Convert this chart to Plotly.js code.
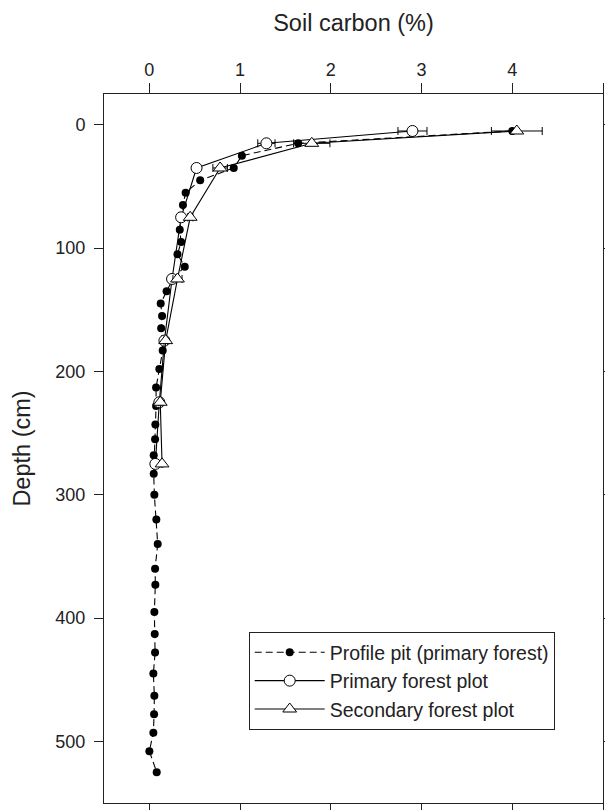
<!DOCTYPE html>
<html>
<head>
<meta charset="utf-8">
<script src="https://cdn.plot.ly/plotly-3.0.1.min.js"></script>
<style>html,body{margin:0;padding:0;background:#fff;}#chart{width:605px;height:810px;}</style>
</head>
<body>
<div id="chart"></div>
<script>
// Profile pit (primary forest)
var pitDepth = [5, 15, 25, 35, 45, 55, 65, 75, 85, 95, 105, 115, 125, 135, 145, 155, 165, 183, 198, 213, 228, 243, 255, 268, 283, 300, 320, 340, 360, 373, 395, 413, 428, 445, 463, 478, 493, 508, 525];
var pitCarbon = [4.0, 1.64, 1.02, 0.93, 0.56, 0.40, 0.37, 0.35, 0.335, 0.35, 0.31, 0.39, 0.26, 0.19, 0.125, 0.14, 0.13, 0.147, 0.11, 0.074, 0.074, 0.066, 0.063, 0.048, 0.048, 0.055, 0.077, 0.092, 0.063, 0.066, 0.055, 0.059, 0.063, 0.044, 0.055, 0.052, 0.044, 0.0, 0.081];

// Primary forest plot
var priDepth = [5, 15, 35, 75, 125, 175, 225, 275];
var priCarbon = [2.90, 1.29, 0.52, 0.35, 0.25, 0.166, 0.11, 0.066];
var priErr = [0.16, 0.095, 0.02, 0.03, 0.03, 0.02, 0.02, 0.01];

// Secondary forest plot
var secDepth = [5, 15, 35, 75, 125, 175, 225, 275];
var secCarbon = [4.05, 1.79, 0.78, 0.45, 0.31, 0.18, 0.12, 0.14];
var secErr = [0.28, 0.2, 0.08, 0.03, 0.05, 0.02, 0.02, 0.01];

var xTicks = [0, 1, 2, 3, 4, 5];
var yTicks = [0, 100, 200, 300, 400, 500];

var FONT = 'Liberation Sans, Arial, sans-serif';

var traces = [
  {
    x: pitCarbon, y: pitDepth, type: 'scatter', mode: 'lines+markers',
    name: 'Profile pit (primary forest)',
    line: {color: '#000', width: 1.1, dash: '7px,4px'},
    marker: {symbol: 'circle', size: 8, color: '#000'}
  },
  {
    x: priCarbon, y: priDepth, type: 'scatter', mode: 'lines+markers',
    name: 'Primary forest plot',
    line: {color: '#000', width: 1.1},
    marker: {symbol: 'circle', size: 11, color: '#fff', line: {color: '#000', width: 1}},
    error_x: {type: 'data', array: priErr, visible: true, color: '#000', thickness: 1, width: 4}
  },
  {
    x: secCarbon, y: secDepth, type: 'scatter', mode: 'lines+markers',
    name: 'Secondary forest plot',
    line: {color: '#000', width: 1.1},
    marker: {symbol: 'triangle-up', size: 12, color: '#fff', line: {color: '#000', width: 1}},
    error_x: {type: 'data', array: secErr, visible: true, color: '#000', thickness: 1, width: 4}
  }
];

var layout = {
  width: 605, height: 810,
  margin: {l: 104, r: 2, t: 94, b: 7},
  paper_bgcolor: '#fff', plot_bgcolor: '#fff',
  font: {family: FONT, size: 18, color: '#222'},
  showlegend: true,
  legend: {
    x: 0.29, y: 0.241, xanchor: 'left', yanchor: 'top',
    bgcolor: '#fff', bordercolor: '#222', borderwidth: 1,
    font: {family: FONT, size: 19.5, color: '#222'},
    itemwidth: 70, tracegroupgap: 0
  },
  xaxis: {
    side: 'top', range: [-0.5, 5], tickvals: xTicks, ticktext: xTicks.map(String),
    ticks: 'outside', ticklen: 10, tickwidth: 1, tickcolor: '#222',
    showline: true, linecolor: '#222', linewidth: 1, mirror: 'allticks',
    showgrid: false, zeroline: false,
    tickfont: {family: FONT, size: 18, color: '#222'},
    title: {text: 'Soil carbon (%)', font: {family: FONT, size: 23.5, color: '#222'}, standoff: 21}
  },
  yaxis: {
    range: [550, -25], tickvals: yTicks, ticktext: yTicks.map(String),
    ticks: 'outside', ticklen: 9, tickwidth: 1, tickcolor: '#222',
    showline: true, linecolor: '#222', linewidth: 1, mirror: 'allticks',
    showgrid: false, zeroline: false,
    tickfont: {family: FONT, size: 18, color: '#222'},
    ticklabelstandoff: 5,
    title: {text: 'Depth (cm)', font: {family: FONT, size: 23.5, color: '#222'}, standoff: 18}
  }
};

Plotly.newPlot('chart', traces, layout, {displayModeBar: false, staticPlot: true});
</script>
</body>
</html>
